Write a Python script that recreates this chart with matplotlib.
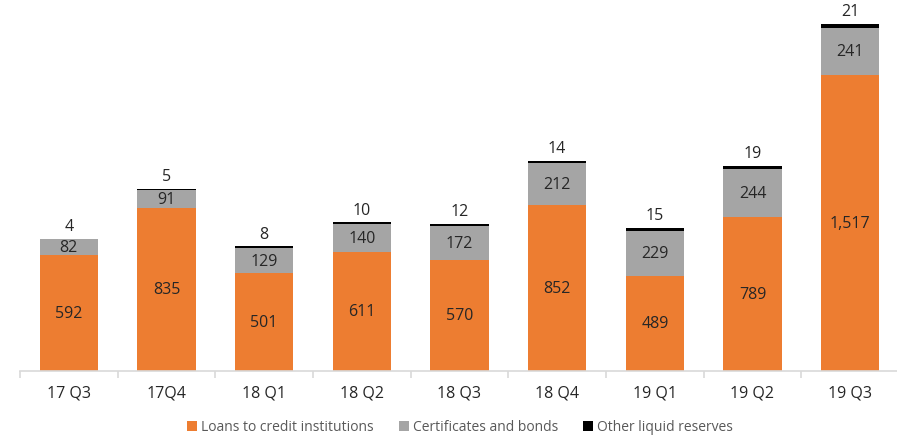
import matplotlib.pyplot as plt
import numpy as np

categories = ["17 Q3", "17Q4", "18 Q1", "18 Q2", "18 Q3", "18 Q4", "19 Q1", "19 Q2", "19 Q3"]
loans = [592, 835, 501, 611, 570, 852, 489, 789, 1517]
certificates = [82, 91, 129, 140, 172, 212, 229, 244, 241]
other = [4, 5, 8, 10, 12, 14, 15, 19, 21]

plt.rcParams['font.family'] = ['Open Sans', 'DejaVu Sans']
text_color = "#262626"

fig = plt.figure(figsize=(8.97, 4.39), dpi=100)
ax = fig.add_axes([20 / 897, 1 - 372 / 439, 879 / 897, 367 / 439])

x = np.arange(len(categories))
w = 0.6
loans_a = np.array(loans)
cert_a = np.array(certificates)
other_a = np.array(other)

ax.bar(x, loans_a, w, color="#ED7D31", label="Loans to credit institutions")
ax.bar(x, cert_a, w, bottom=loans_a, color="#A5A5A5", label="Certificates and bonds")
ax.bar(x, other_a, w, bottom=loans_a + cert_a, color="#000000", label="Other liquid reserves")

for i in range(len(x)):
    ax.text(x[i], loans_a[i] / 2, f"{loans_a[i]:,}", ha="center", va="center",
            fontsize=11.5, color=text_color)
    ax.text(x[i], loans_a[i] + cert_a[i] / 2, f"{cert_a[i]:,}", ha="center", va="center",
            fontsize=11.5, color=text_color)
    top = loans_a[i] + cert_a[i] + other_a[i]
    ax.text(x[i], top + 25, f"{other_a[i]:,}", ha="center", va="bottom",
            fontsize=11.5, color=text_color)

ax.set_xlim(-0.5, len(categories) - 0.5)
ax.set_ylim(0, 1880)
ax.set_yticks([])
for s in ["top", "right", "left"]:
    ax.spines[s].set_visible(False)
ax.spines["bottom"].set_color("#D9D9D9")
ax.spines["bottom"].set_linewidth(1.2)

ax.set_xticks(x)
ax.set_xticklabels(categories, fontsize=11.5, color=text_color)
ax.tick_params(axis="x", which="major", length=0, pad=10)
ax.set_xticks(np.arange(-0.5, len(categories), 1.0), minor=True)
ax.tick_params(axis="x", which="minor", length=5, color="#D9D9D9", width=1.2)

leg = fig.legend(loc="center", bbox_to_anchor=(460 / 897, 1 - 428 / 439), ncol=3,
                 frameon=False, fontsize=10, handlelength=0.7, handleheight=0.7,
                 handletextpad=0.3, columnspacing=1.8)
for t in leg.get_texts():
    t.set_color("#595959")

fig.savefig("out.png", dpi=100)
